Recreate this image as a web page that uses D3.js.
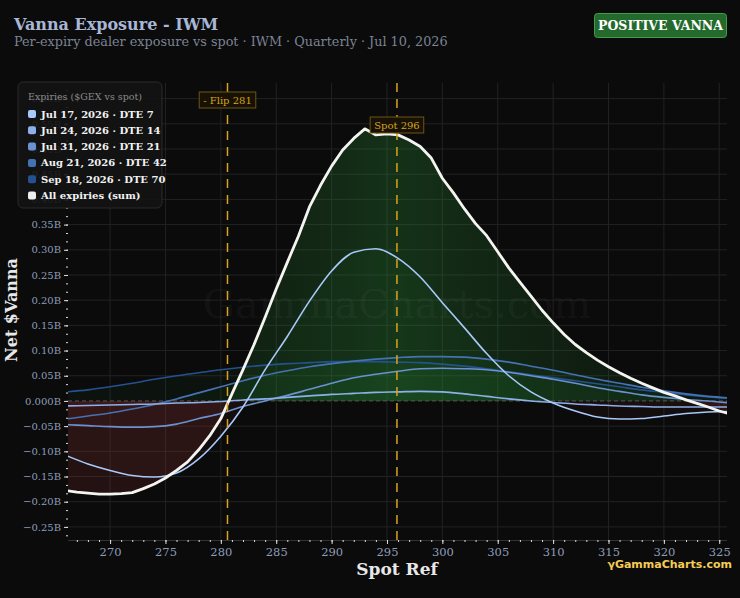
<!DOCTYPE html>
<html>
<head>
<meta charset="utf-8">
<script src="https://cdn.jsdelivr.net/npm/d3@7"></script>
<style>
  html, body { margin: 0; padding: 0; background: #0b0b0b; }
  svg { display: block; }
</style>
</head>
<body>
<svg id="chart"></svg>
<script>
const width = 740;
const height = 598;
const margin = { top: 83, right: 13, bottom: 58, left: 68 };

// per-strike sum of all expiries (1-point spacing)
const sumStrikes = [266, 267, 268, 269, 270, 271, 272, 273, 274, 275, 276, 277, 278, 279, 280,
  281, 282, 283, 284, 285, 286, 287, 288, 289, 290, 291, 292, 293, 294, 295, 296, 297, 298, 299,
  300, 301, 302, 303, 304, 305, 306, 307, 308, 309, 310, 311, 312, 313, 314, 315, 316, 317, 318,
  319, 320, 321, 322, 323, 324, 325, 326];
const sumVanna = [-0.178, -0.181, -0.183, -0.185, -0.185, -0.184, -0.182, -0.174, -0.165, -0.153,
  -0.138, -0.121, -0.097, -0.069, -0.035, 0.014, 0.062, 0.112, 0.166, 0.222, 0.275, 0.327, 0.385,
  0.428, 0.466, 0.498, 0.521, 0.540, 0.528, 0.530, 0.528, 0.518, 0.505, 0.482, 0.442, 0.413, 0.381,
  0.352, 0.328, 0.296, 0.264, 0.236, 0.208, 0.180, 0.155, 0.132, 0.112, 0.096, 0.081, 0.068, 0.056,
  0.045, 0.035, 0.026, 0.017, 0.010, 0.002, -0.005, -0.012, -0.020, -0.026];

// per-expiry curves (2-point spacing)
const expStrikes = [266, 268, 270, 272, 274, 276, 278, 280, 282, 284, 286, 288, 290, 292, 294,
  296, 298, 300, 302, 304, 306, 308, 310, 312, 314, 316, 318, 320, 322, 324, 326];
const dte7 = [-0.108, -0.125, -0.138, -0.148, -0.151, -0.143, -0.115, -0.070, -0.012, 0.062, 0.128,
  0.198, 0.258, 0.295, 0.302, 0.283, 0.246, 0.195, 0.145, 0.094, 0.050, 0.018, -0.004, -0.020,
  -0.032, -0.036, -0.035, -0.030, -0.025, -0.022, -0.021];
const dte14 = [-0.010, -0.009, -0.008, -0.007, -0.006, -0.004, -0.003, -0.001, 0.002, 0.004, 0.007,
  0.010, 0.013, 0.015, 0.017, 0.018, 0.019, 0.018, 0.014, 0.009, 0.004, 0.000, -0.003, -0.006,
  -0.008, -0.010, -0.011, -0.012, -0.012, -0.012, -0.012];
const dte21 = [-0.047, -0.049, -0.051, -0.052, -0.051, -0.046, -0.035, -0.025, -0.011, 0.000, 0.011,
  0.023, 0.035, 0.046, 0.053, 0.059, 0.064, 0.065, 0.064, 0.062, 0.057, 0.050, 0.043, 0.035, 0.026,
  0.019, 0.012, 0.007, 0.003, 0.000, -0.004];
const dte42 = [-0.036, -0.030, -0.024, -0.016, -0.007, 0.004, 0.016, 0.028, 0.040, 0.051, 0.060,
  0.068, 0.074, 0.079, 0.083, 0.086, 0.088, 0.088, 0.087, 0.083, 0.077, 0.069, 0.061, 0.052, 0.043,
  0.035, 0.027, 0.020, 0.014, 0.009, 0.006];
const dte70 = [0.018, 0.022, 0.028, 0.035, 0.043, 0.050, 0.056, 0.062, 0.067, 0.071, 0.074, 0.076,
  0.078, 0.078, 0.078, 0.077, 0.076, 0.073, 0.069, 0.064, 0.058, 0.052, 0.046, 0.040, 0.034, 0.028,
  0.022, 0.017, 0.012, 0.008, 0.005];

const expiryLabels = ["Jul 17, 2026 · DTE 7", "Jul 24, 2026 · DTE 14", "Jul 31, 2026 · DTE 21",
  "Aug 21, 2026 · DTE 42", "Sep 18, 2026 · DTE 70"];
const expiryColors = ["#a9c9fa", "#8db0ea", "#6a91d0", "#4572b4", "#24528f"];
const expiryValues = [dte7, dte14, dte21, dte42, dte70];

const xTicks = [270, 275, 280, 285, 290, 295, 300, 305, 310, 315, 320, 325];
const yTicks = [-0.25, -0.2, -0.15, -0.1, -0.05, 0, 0.05, 0.1, 0.15, 0.2, 0.25, 0.3, 0.35, 0.4,
  0.45, 0.5, 0.55, 0.6];

const flipLevel = 280.6;
const spotLevel = 295.9;

const serif = "'DejaVu Serif', serif";

const x_scale = d3.scaleLinear().domain([266.2, 325.7]).range([margin.left, width - margin.right]);
const y_scale = d3.scaleLinear().domain([-0.276, 0.631]).range([height - margin.bottom, margin.top]);

const svg = d3.select("#chart").attr("width", width).attr("height", height)
  .attr("viewBox", [0, 0, width, height]);

svg.append("rect").attr("width", width).attr("height", height).attr("fill", "#0b0b0b");

const defs = svg.append("defs");
const plotW = width - margin.left - margin.right;
const plotH = height - margin.top - margin.bottom;
const y0 = y_scale(0);

defs.append("clipPath").attr("id", "plot-clip").append("rect")
  .attr("x", margin.left).attr("y", margin.top).attr("width", plotW).attr("height", plotH);
defs.append("clipPath").attr("id", "pos-clip").append("rect")
  .attr("x", margin.left).attr("y", margin.top).attr("width", plotW).attr("height", y0 - margin.top);
defs.append("clipPath").attr("id", "neg-clip").append("rect")
  .attr("x", margin.left).attr("y", y0).attr("width", plotW).attr("height", height - margin.bottom - y0);

// horizontal gradient for the positive fill, brightest around spot
const spotFrac = (x_scale(spotLevel) - margin.left) / plotW;
const gGreen = defs.append("linearGradient").attr("id", "green-grad")
  .attr("gradientUnits", "userSpaceOnUse")
  .attr("x1", margin.left).attr("x2", width - margin.right).attr("y1", 0).attr("y2", 0);
[[0, 0.05], [spotFrac - 0.12, 0.2], [spotFrac, 0.27], [spotFrac + 0.12, 0.2], [1, 0.04]]
  .forEach(([o, a]) => gGreen.append("stop").attr("offset", o)
    .attr("stop-color", "#2f9a3c").attr("stop-opacity", a));

// grid
const grid = svg.append("g").attr("stroke", "#222").attr("stroke-width", 1);
grid.selectAll("line.gx").data(xTicks).join("line")
  .attr("x1", (d) => x_scale(d)).attr("x2", (d) => x_scale(d))
  .attr("y1", margin.top).attr("y2", height - margin.bottom);
grid.selectAll("line.gy").data(yTicks.filter((d) => d !== 0)).join("line")
  .attr("x1", margin.left).attr("x2", width - margin.right)
  .attr("y1", (d) => y_scale(d)).attr("y2", (d) => y_scale(d));
svg.append("line")
  .attr("x1", margin.left).attr("x2", width - margin.right)
  .attr("y1", height - margin.bottom + 0.5).attr("y2", height - margin.bottom + 0.5)
  .attr("stroke", "#333");

// fills
const expArea = d3.area().x((d, i) => x_scale(expStrikes[i])).y0(y0).y1((d) => y_scale(d))
  .curve(d3.curveMonotoneX);
const sumArea = d3.area().x((d, i) => x_scale(sumStrikes[i])).y0(y0).y1((d) => y_scale(d));

const fills = svg.append("g");
expiryValues.forEach((vals) => {
  fills.append("path").attr("clip-path", "url(#pos-clip)").attr("d", expArea(vals))
    .attr("fill", "#2f9a3c").attr("fill-opacity", 0.05);
  fills.append("path").attr("clip-path", "url(#neg-clip)").attr("d", expArea(vals))
    .attr("fill", "#a03a3a").attr("fill-opacity", 0.06);
});
fills.append("path").attr("clip-path", "url(#pos-clip)").attr("d", sumArea(sumVanna))
  .attr("fill", "url(#green-grad)");
fills.append("path").attr("clip-path", "url(#neg-clip)").attr("d", sumArea(sumVanna))
  .attr("fill", "#8c3232").attr("fill-opacity", 0.2);

// watermark
svg.append("text").attr("x", 397).attr("y", 318).attr("text-anchor", "middle")
  .attr("font-family", serif).attr("font-size", 40).attr("fill", "#ffffff").attr("fill-opacity", 0.05)
  .text("GammaCharts.com");

// zero line
svg.append("line").attr("x1", margin.left).attr("x2", width - margin.right)
  .attr("y1", y0).attr("y2", y0).attr("stroke", "#555").attr("stroke-dasharray", "4,3");

// expiry lines
const lines = svg.append("g").attr("clip-path", "url(#plot-clip)").attr("fill", "none");
const expLine = d3.line().x((d, i) => x_scale(expStrikes[i])).y((d) => y_scale(d))
  .curve(d3.curveMonotoneX);
for (let k = expiryValues.length - 1; k >= 0; k--) {
  lines.append("path").attr("d", expLine(expiryValues[k]))
    .attr("stroke", expiryColors[k]).attr("stroke-width", 1.6);
}
const sumLine = d3.line().x((d, i) => x_scale(sumStrikes[i])).y((d) => y_scale(d));
lines.append("path").attr("d", sumLine(sumVanna)).attr("stroke", "#f4f4f0")
  .attr("stroke-width", 2.8).attr("stroke-linejoin", "round");

// axes
const yAxis = d3.axisLeft(y_scale).tickValues(yTicks).tickSize(4).tickPadding(3)
  .tickFormat((d) => (d === 0 ? "0.000B" : d3.format(".2f")(d) + "B"));
const gy = svg.append("g").attr("transform", `translate(${margin.left},0)`).call(yAxis);
gy.select(".domain").remove();
gy.selectAll(".tick line").attr("stroke", "#ddd");
gy.selectAll(".tick text").attr("fill", "#8e9dba").attr("font-family", serif).attr("font-size", 10);

const yMinor = d3.range(-16, 38).map((i) => (i * 0.05) / 3);
const gym = svg.append("g").attr("transform", `translate(${margin.left},0)`)
  .call(d3.axisLeft(y_scale).tickValues(yMinor).tickSize(2).tickFormat(""));
gym.select(".domain").remove();
gym.selectAll(".tick line").attr("stroke", "#ddd");

const xAxis = d3.axisBottom(x_scale).tickValues(xTicks).tickSize(4).tickPadding(4)
  .tickFormat(d3.format("d"));
const gx = svg.append("g").attr("transform", `translate(0,${height - margin.bottom})`).call(xAxis);
gx.select(".domain").remove();
gx.selectAll(".tick line").attr("stroke", "#ddd");
gx.selectAll(".tick text").attr("fill", "#8e9dba").attr("font-family", serif).attr("font-size", 11.5);

const gxm = svg.append("g").attr("transform", `translate(0,${height - margin.bottom})`)
  .call(d3.axisBottom(x_scale).tickValues(d3.range(267, 326)).tickSize(2).tickFormat(""));
gxm.select(".domain").remove();
gxm.selectAll(".tick line").attr("stroke", "#ddd");

// reference lines
const refs = [
  { v: flipLevel, label: "- Flip 281", ly: 100 },
  { v: spotLevel, label: "Spot 296", ly: 125 },
];
refs.forEach((r) => {
  const rx = x_scale(r.v);
  svg.append("line").attr("x1", rx).attr("x2", rx)
    .attr("y1", margin.top).attr("y2", height - margin.bottom)
    .attr("stroke", "#d9a21f").attr("stroke-width", 1.5).attr("stroke-dasharray", "9,7");
  const t = svg.append("text").attr("x", rx).attr("y", r.ly).attr("dy", "0.35em")
    .attr("text-anchor", "middle").attr("font-family", serif).attr("font-size", 10)
    .attr("fill", "#d9a21f").text(r.label);
  const bb = t.node().getBBox();
  svg.insert("rect", () => t.node())
    .attr("x", bb.x - 4).attr("y", r.ly - 8).attr("width", bb.width + 8).attr("height", 16)
    .attr("fill", "#171205").attr("stroke", "#6d5514").attr("stroke-width", 1);
});

// legend
const legend = svg.append("g").attr("transform", "translate(18,82)");
legend.append("rect").attr("width", 144).attr("height", 126).attr("rx", 5)
  .attr("fill", "#131313").attr("fill-opacity", 0.9).attr("stroke", "#2a2a2a");
legend.append("text").attr("x", 10).attr("y", 18).attr("font-family", serif).attr("font-size", 9.5)
  .attr("fill", "#8a8a8a").text("Expiries ($GEX vs spot)");
const legendItems = expiryLabels.map((l, i) => ({ label: l, color: expiryColors[i] }))
  .concat([{ label: "All expiries (sum)", color: "#eeeeee" }]);
legend.selectAll("g.item").data(legendItems).join("g")
  .attr("transform", (d, i) => `translate(10,${32 + i * 16.3})`)
  .each(function (d) {
    const g = d3.select(this);
    g.append("rect").attr("x", 0).attr("y", -4).attr("width", 8).attr("height", 8).attr("rx", 2)
      .attr("fill", d.color);
    g.append("text").attr("x", 13).attr("y", 0).attr("dy", "0.35em").attr("font-family", serif)
      .attr("font-size", 10).attr("font-weight", "bold").attr("fill", "#f2f2f2").text(d.label);
  });

// titles
svg.append("text").attr("x", 14).attr("y", 30).attr("font-family", serif).attr("font-size", 16)
  .attr("font-weight", "bold").attr("fill", "#a9b7d7").text("Vanna Exposure - IWM");
svg.append("text").attr("x", 14).attr("y", 46).attr("font-family", serif).attr("font-size", 12.8)
  .attr("fill", "#7b8395").text("Per-expiry dealer exposure vs spot · IWM · Quarterly · Jul 10, 2026");

// badge
svg.append("rect").attr("x", 594.5).attr("y", 13.5).attr("width", 132).attr("height", 24).attr("rx", 3)
  .attr("fill", "#236a2c").attr("stroke", "#3f9e49");
svg.append("text").attr("x", 660.5).attr("y", 25.5).attr("dy", "0.35em").attr("text-anchor", "middle")
  .attr("font-family", serif).attr("font-size", 12.5).attr("font-weight", "bold").attr("fill", "#ffffff")
  .text("POSITIVE VANNA");

// axis titles
svg.append("text").attr("transform", "translate(17,310) rotate(-90)").attr("text-anchor", "middle")
  .attr("font-family", serif).attr("font-size", 16).attr("font-weight", "bold").attr("fill", "#e8e8e8")
  .text("Net $Vanna");
svg.append("text").attr("x", 397).attr("y", 575).attr("text-anchor", "middle")
  .attr("font-family", serif).attr("font-size", 17).attr("font-weight", "bold").attr("fill", "#e8e8e8")
  .text("Spot Ref");

// logo
svg.append("text").attr("x", 732).attr("y", 568).attr("text-anchor", "end")
  .attr("font-family", "'DejaVu Sans', sans-serif").attr("font-size", 11).attr("font-weight", "bold")
  .attr("fill", "#f3cd55").text("γGammaCharts.com");
</script>
</body>
</html>
